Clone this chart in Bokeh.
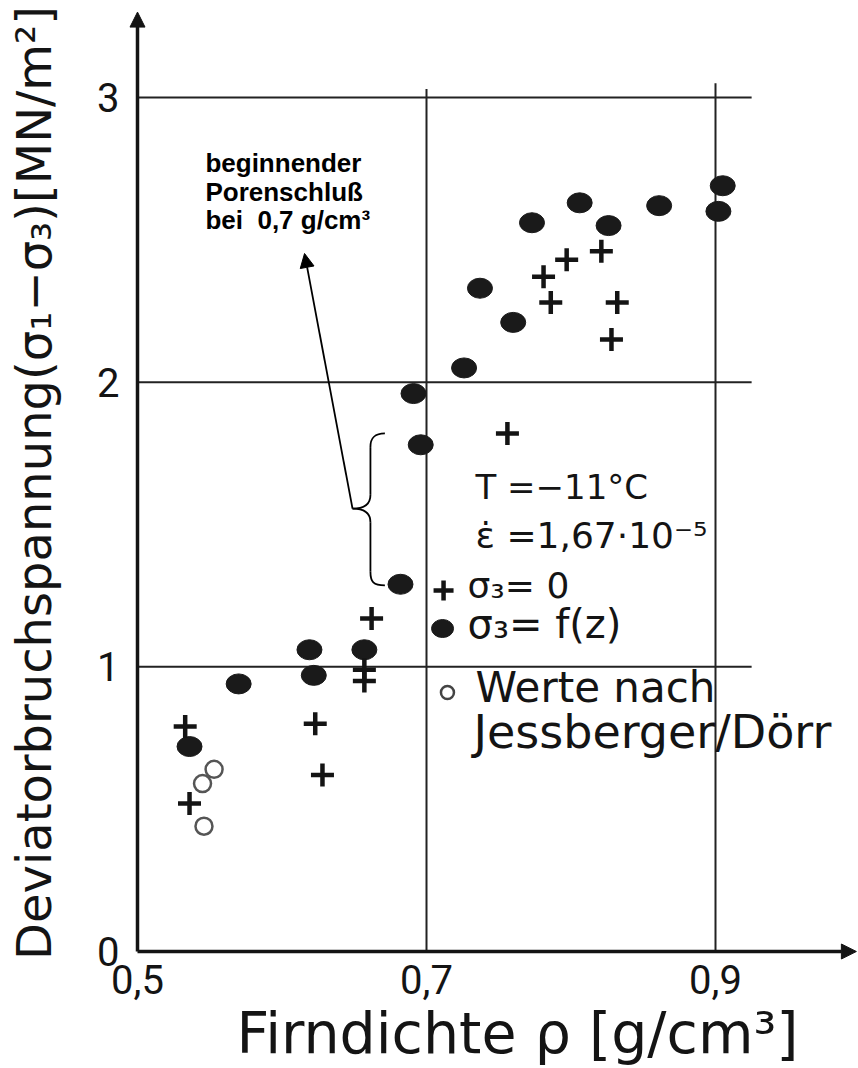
import math
from bokeh.plotting import figure
from bokeh.models import Label, Arrow, NormalHead, FixedTicker, Range1d
from bokeh.embed import file_html
from bokeh.resources import INLINE

# ---------------- data ----------------
# sigma_3 = f(z)  (filled circles)
fz_density = [0.905, 0.902, 0.861, 0.806, 0.826, 0.773, 0.737, 0.760, 0.726,
              0.691, 0.696, 0.682, 0.619, 0.657, 0.622, 0.570, 0.536]
fz_stress = [2.69, 2.60, 2.62, 2.63, 2.55, 2.56, 2.33, 2.21, 2.05,
             1.96, 1.78, 1.29, 1.06, 1.06, 0.97, 0.94, 0.72]
# sigma_3 = 0  (crosses)
s0_density = [0.821, 0.797, 0.781, 0.786, 0.832, 0.828, 0.756, 0.662,
              0.657, 0.657, 0.623, 0.628, 0.533, 0.536]
s0_stress = [2.46, 2.43, 2.37, 2.28, 2.28, 2.15, 1.82, 1.17,
             0.99, 0.95, 0.80, 0.62, 0.79, 0.52]
# Werte nach Jessberger/Dörr (open circles)
jd_density = [0.553, 0.545, 0.546]
jd_stress = [0.64, 0.59, 0.44]

x_ticks = [0.5, 0.7, 0.9]
x_tick_labels = ["0,5", "0,7", "0,9"]
y_ticks = [0, 1, 2, 3]
y_tick_labels = ["0", "1", "2", "3"]

INK = "#141414"

p = figure(width=858, height=1068,
           x_range=Range1d(0.40519, 0.99896), y_range=Range1d(-0.41100, 3.34071),
           output_backend="svg", toolbar_location=None,
           min_border=0, min_border_left=0, min_border_right=0,
           min_border_top=0, min_border_bottom=0)
p.outline_line_color = None
p.grid.visible = False
p.background_fill_color = "white"

# axes: Bokeh axes pinned to the data origin, used for the tick labels
p.xaxis.fixed_location = 0
p.yaxis.fixed_location = 0.5
p.xaxis.ticker = FixedTicker(ticks=x_ticks)
p.xaxis.major_label_overrides = dict(zip(x_ticks, x_tick_labels))
p.yaxis.ticker = FixedTicker(ticks=y_ticks)
p.yaxis.major_label_overrides = dict(zip(y_ticks, y_tick_labels))
for ax in (p.xaxis[0], p.yaxis[0]):
    ax.axis_line_color = None
    ax.major_tick_line_color = None
    ax.minor_tick_line_color = None
    ax.major_tick_out = 0
    ax.major_tick_in = 0
    ax.major_label_text_font = "Roboto"
    ax.major_label_text_font_size = "40px"
    ax.major_label_text_color = INK
p.xaxis.major_label_standoff = 13
p.yaxis.major_label_standoff = 18

# grid lines (drawn only inside the chart box, like the original)
p.segment(x0=[x_ticks[0]] * 3, y0=y_ticks[1:], x1=[0.925] * 3, y1=y_ticks[1:],
          line_width=2, line_color="#222222")
p.segment(x0=x_ticks[1:], y0=[0, 0], x1=x_ticks[1:], y1=[3.03, 3.05],
          line_width=2, line_color="#222222")

# axis lines with arrow heads
p.add_layout(Arrow(end=NormalHead(size=15, fill_color=INK, line_color=INK),
                   x_start=0.5, y_start=0, x_end=0.9975, y_end=0,
                   line_width=3.5, line_color=INK))
p.add_layout(Arrow(end=NormalHead(size=15, fill_color=INK, line_color=INK),
                   x_start=0.5, y_start=0, x_end=0.5, y_end=3.30,
                   line_width=3.5, line_color=INK))

# data marks
p.ellipse(x=fz_density, y=fz_stress, width=25, height=20,
          width_units="screen", height_units="screen",
          fill_color="#1a1a1a", line_color="#1a1a1a")
p.scatter(x=s0_density, y=s0_stress, marker="cross", size=23,
          line_width=4.5, line_color=INK)
p.scatter(x=jd_density, y=jd_stress, marker="circle", size=17,
          line_width=2.5, line_color="#555555", fill_alpha=0)

# ---------------- legend (drawn by hand, as in the original) ----------------
p.scatter(x=[0.7118], y=[1.268], marker="cross", size=20, line_width=4.5, line_color=INK)
p.ellipse(x=[0.7111], y=[1.1346], width=22, height=18, width_units="screen",
          height_units="screen", fill_color="#1a1a1a", line_color="#1a1a1a")
p.scatter(x=[0.7145], y=[0.9098], marker="circle", size=13, line_width=2.5,
          line_color="#444444", fill_alpha=0)

legend_lines = [
    ("T =\u221211\u00b0C", 0.7339, 1.6331, "34px"),
    ("\u03b5\u0307 =1,67\u00b710\u207b\u2075", 0.7339, 1.4600, "36px"),
    ("\u03c3\u2083= 0", 0.7284, 1.2843, "36px"),
    ("\u03c3\u2083= f(z)", 0.7284, 1.1522, "40px"),
    ("Werte nach", 0.7339, 0.9263, "42px"),
    ("Jessberger/D\u00f6rr", 0.7325, 0.7697, "46px"),
]
for txt, lx, ly, fs in legend_lines:
    p.add_layout(Label(x=lx, y=ly, text=txt, text_font="DejaVu Sans",
                       text_font_size=fs, text_color=INK,
                       text_baseline="alphabetic", text_align="left"))

# ---------------- annotation ----------------
ann_lines = ["beginnender", "Porenschlu\u00df", "bei\u00a0 0,7 g/cm\u00b3"]
for txt, ly in zip(ann_lines, [2.769, 2.667, 2.568]):
    p.add_layout(Label(x=0.547, y=ly, text=txt, text_font="Liberation Sans",
                       text_font_style="bold", text_font_size="26px",
                       text_color="black", text_baseline="alphabetic"))

# curly brace
bx_tip, bx_bar, bx_end = 0.6488, 0.6612, 0.6712
by_top, by_mid, by_bot = 1.820, 1.556, 1.286
c = 0.048
p.bezier(x0=[bx_end, bx_bar, bx_bar, bx_tip, bx_bar, bx_bar],
         y0=[by_top, by_top - c, by_mid + c, by_mid, by_mid - c, by_bot + c],
         x1=[bx_bar, bx_bar, bx_tip, bx_bar, bx_bar, bx_end],
         y1=[by_top - c, by_mid + c, by_mid, by_mid - c, by_bot + c, by_bot],
         cx0=[bx_bar + 0.002, bx_bar, bx_bar, bx_tip + 0.007, bx_bar, bx_bar],
         cy0=[by_top, by_top - c, by_mid + 0.012, by_mid, by_mid - c, by_bot + 0.012],
         cx1=[bx_bar, bx_bar, bx_tip + 0.007, bx_bar, bx_bar, bx_bar + 0.002],
         cy1=[by_top - 0.02, by_mid + c, by_mid, by_mid - 0.012, by_bot + c, by_bot],
         line_width=1.8, line_color="black")

p.add_layout(Arrow(end=NormalHead(size=14, fill_color="black", line_color="black"),
                   x_start=bx_tip, y_start=by_mid, x_end=0.6156, y_end=2.452,
                   line_width=1.8, line_color="black"))

# ---------------- axis titles ----------------
p.add_layout(Label(x=0.4282, y=1.6457, angle=math.pi / 2,
                   text="Deviatorbruchspannung(\u03c3\u2081\u2212\u03c3\u2083)[MN/m\u00b2]",
                   text_font="DejaVu Sans", text_font_size="48px", text_color=INK,
                   text_align="center", text_baseline="alphabetic"))
p.add_layout(Label(x=0.763, y=-0.2848, text="Firndichte \u03c1 [g/cm\u00b3]",
                   text_font="DejaVu Sans", text_font_size="57px", text_color=INK,
                   text_align="center", text_baseline="alphabetic"))

open("out.html", "w").write(file_html(p, INLINE))
